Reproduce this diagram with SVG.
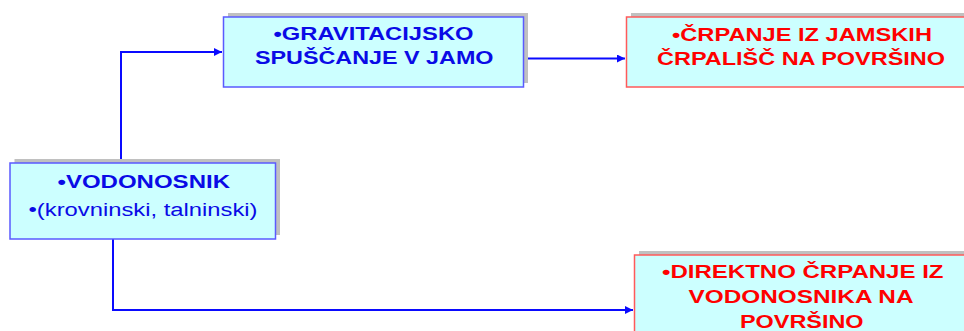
<svg xmlns="http://www.w3.org/2000/svg" width="964" height="331" viewBox="0 0 964 331">
<defs>
<style>
.sh{fill:#c0c0c0}
.bb{fill:#ccffff;stroke:#5a5aff;stroke-width:1.5}
.rb{fill:#ccffff;stroke:#ff5a5a;stroke-width:1.5}
.t{font-family:"Liberation Sans",Arial,sans-serif;font-size:18px}
.b{font-weight:bold}
.bl{fill:#0a0ae6}
.rd{fill:#ff0000}
.c{fill:none;stroke:#0a0aff;stroke-width:2}
</style>
<marker id="ar" viewBox="0 0 10 10" refX="10" refY="5" markerWidth="8" markerHeight="8" markerUnits="userSpaceOnUse" orient="auto">
<path d="M0,0 L10,5 L0,10 z" fill="#0a0aff"/>
</marker>
</defs>
<rect width="964" height="331" fill="#ffffff"/>
<g id="connectors">
<path class="c" d="M121,163 V52 H222" marker-end="url(#ar)"/>
<path class="c" d="M523,58.5 H625" marker-end="url(#ar)"/>
<path class="c" d="M113,239 V310 H633" marker-end="url(#ar)"/>
</g>
<g id="vodonosnik">
<rect class="sh" x="14.5" y="159" width="265.5" height="76"/>
<rect class="bb" x="10" y="163" width="265.5" height="76"/>
<text class="t b bl" x="57.5" y="188" textLength="172.5" lengthAdjust="spacingAndGlyphs">•VODONOSNIK</text>
<text class="t bl" x="28.5" y="216" textLength="229" lengthAdjust="spacingAndGlyphs">•(krovninski, talninski)</text>
</g>
<g id="gravitacijsko">
<rect class="sh" x="228" y="13" width="300" height="70"/>
<rect class="bb" x="223.5" y="17" width="300" height="70"/>
<text class="t b bl" x="273.5" y="39.5" textLength="200" lengthAdjust="spacingAndGlyphs">•GRAVITACIJSKO</text>
<text class="t b bl" x="255" y="63.5" textLength="238.5" lengthAdjust="spacingAndGlyphs">SPUŠČANJE V JAMO</text>
</g>
<g id="crpanje-jamskih">
<rect class="sh" x="631" y="13" width="350" height="70"/>
<rect class="rb" x="626.5" y="17" width="350" height="70"/>
<text class="t b rd" x="672" y="40.5" textLength="260" lengthAdjust="spacingAndGlyphs">•ČRPANJE IZ JAMSKIH</text>
<text class="t b rd" x="657" y="64.5" textLength="288" lengthAdjust="spacingAndGlyphs">ČRPALIŠČ NA POVRŠINO</text>
</g>
<g id="direktno">
<rect class="sh" x="639" y="251" width="340" height="90"/>
<rect class="rb" x="634.5" y="255" width="340" height="90"/>
<text class="t b rd" x="662" y="278" textLength="281.5" lengthAdjust="spacingAndGlyphs">•DIREKTNO ČRPANJE IZ</text>
<text class="t b rd" x="688.5" y="303" textLength="225" lengthAdjust="spacingAndGlyphs">VODONOSNIKA NA</text>
<text class="t b rd" x="740" y="328" textLength="123.5" lengthAdjust="spacingAndGlyphs">POVRŠINO</text>
</g>
</svg>
